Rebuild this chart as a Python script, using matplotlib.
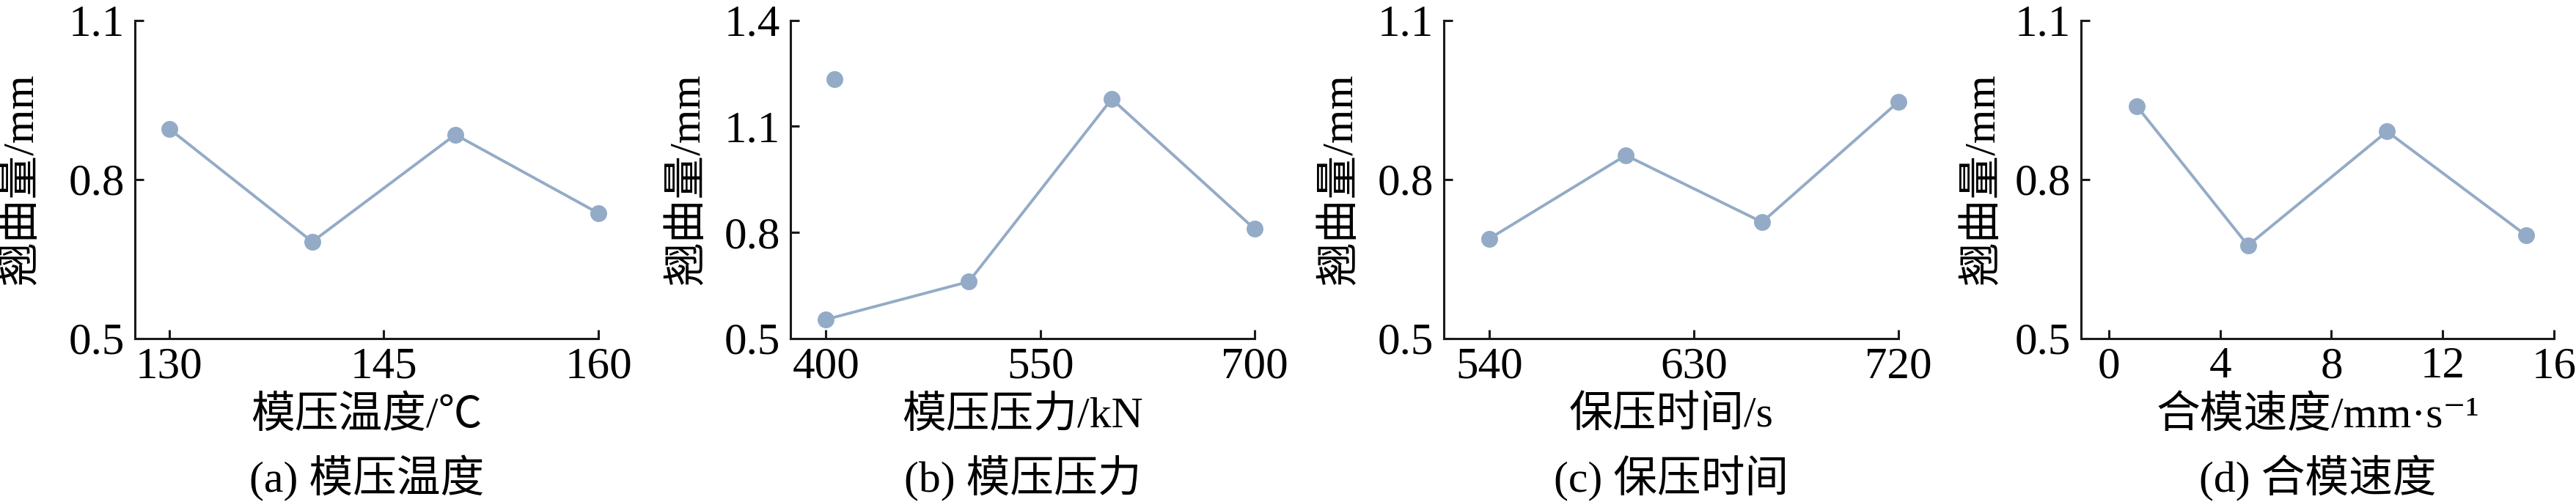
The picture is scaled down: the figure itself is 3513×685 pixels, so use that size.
import matplotlib
matplotlib.use("Agg")
import matplotlib.pyplot as plt

plt.rcParams['font.family'] = ['Liberation Serif', 'Noto Sans CJK SC', 'DejaVu Sans']
plt.rcParams['axes.unicode_minus'] = False

# panel data
temp_x = [130, 140, 150, 160]
temp_y = [0.895, 0.682, 0.884, 0.736]

press_x = [400, 500, 600, 700]
press_y = [0.553, 0.660, 1.177, 0.809]
press_extra_x = [405.8]
press_extra_y = [1.234]

hold_x = [540, 600, 660, 720]
hold_y = [0.688, 0.845, 0.719, 0.946]

speed_x = [1, 5, 10, 15]
speed_y = [0.938, 0.675, 0.890, 0.694]

temp_ticks = [130, 145, 160]
press_ticks = [400, 550, 700]
hold_ticks = [540, 630, 720]
speed_ticks = [0, 4, 8, 12, 16]

y_ticks_small = [0.5, 0.8, 1.1]
y_ticks_press = [0.5, 0.8, 1.1, 1.4]

ylabel = '翘曲量/mm'
xlabels = ['模压温度/℃', '模压压力/kN', '保压时间/s', '合模速度/mm·s⁻¹']
captions = ['(a) 模压温度', '(b) 模压压力', '(c) 保压时间', '(d) 合模速度']

COLOR = '#93abc6'
W, H = 3513, 685

fig = plt.figure(figsize=(W / 100, H / 100), dpi=100)

# pixel boxes: left, right, ylabel offset (px left of spine)
boxes = [(184, 816, -154), (1078, 1711, -139), (1969, 2589, -140), (2838, 3483, -133)]
top_px, bot_px = 27.5, 461.5

panels = [
    (temp_x, temp_y, temp_ticks, (127.6, 160), y_ticks_small, (0.5, 1.1)),
    (press_x, press_y, press_ticks, (375.2, 700), y_ticks_press, (0.5, 1.4)),
    (hold_x, hold_y, hold_ticks, (519.9, 720), y_ticks_small, (0.5, 1.1)),
    (speed_x, speed_y, speed_ticks, (-1, 16), y_ticks_small, (0.5, 1.1)),
]

for i, (xs, ys, xt, xl, yt, yl) in enumerate(panels):
    left, right, yoff = boxes[i]
    w = right - left
    ax = fig.add_axes([left / W, 1 - bot_px / H, w / W, (bot_px - top_px) / H])
    ax.plot(xs, ys, color=COLOR, lw=2.8, marker='o', ms=15.5, mec=COLOR, mfc=COLOR, clip_on=False)
    if i == 1:
        ax.plot(press_extra_x, press_extra_y, 'o', color=COLOR, ms=15.5, clip_on=False)
    ax.set_xlim(*xl)
    ax.set_ylim(*yl)
    ax.set_xticks(xt)
    ax.set_yticks(yt)
    ax.set_yticklabels([f'{v:.1f}' for v in yt])
    for s in ['top', 'right']:
        ax.spines[s].set_visible(False)
    for s in ['left', 'bottom']:
        ax.spines[s].set_linewidth(2.2)
        ax.spines[s].set_color('#1a1a1a')
    ax.tick_params(direction='in', length=8.6, width=2.2, color='#1a1a1a', labelsize=44)
    ax.tick_params(axis='x', pad=8)
    ax.tick_params(axis='y', pad=10)
    ax.set_xlabel(xlabels[i], fontsize=43, va='center')
    ax.xaxis.set_label_coords(0.5, (bot_px - 568) / (bot_px - top_px))
    ax.set_ylabel(ylabel, fontsize=43, va='center')
    ax.yaxis.set_label_coords(yoff / w, 0.5)
    ax.text(0.5, (bot_px - 653) / (bot_px - top_px), captions[i], transform=ax.transAxes,
            fontsize=43, ha='center', va='center')

fig.savefig('out.png', dpi=100)
